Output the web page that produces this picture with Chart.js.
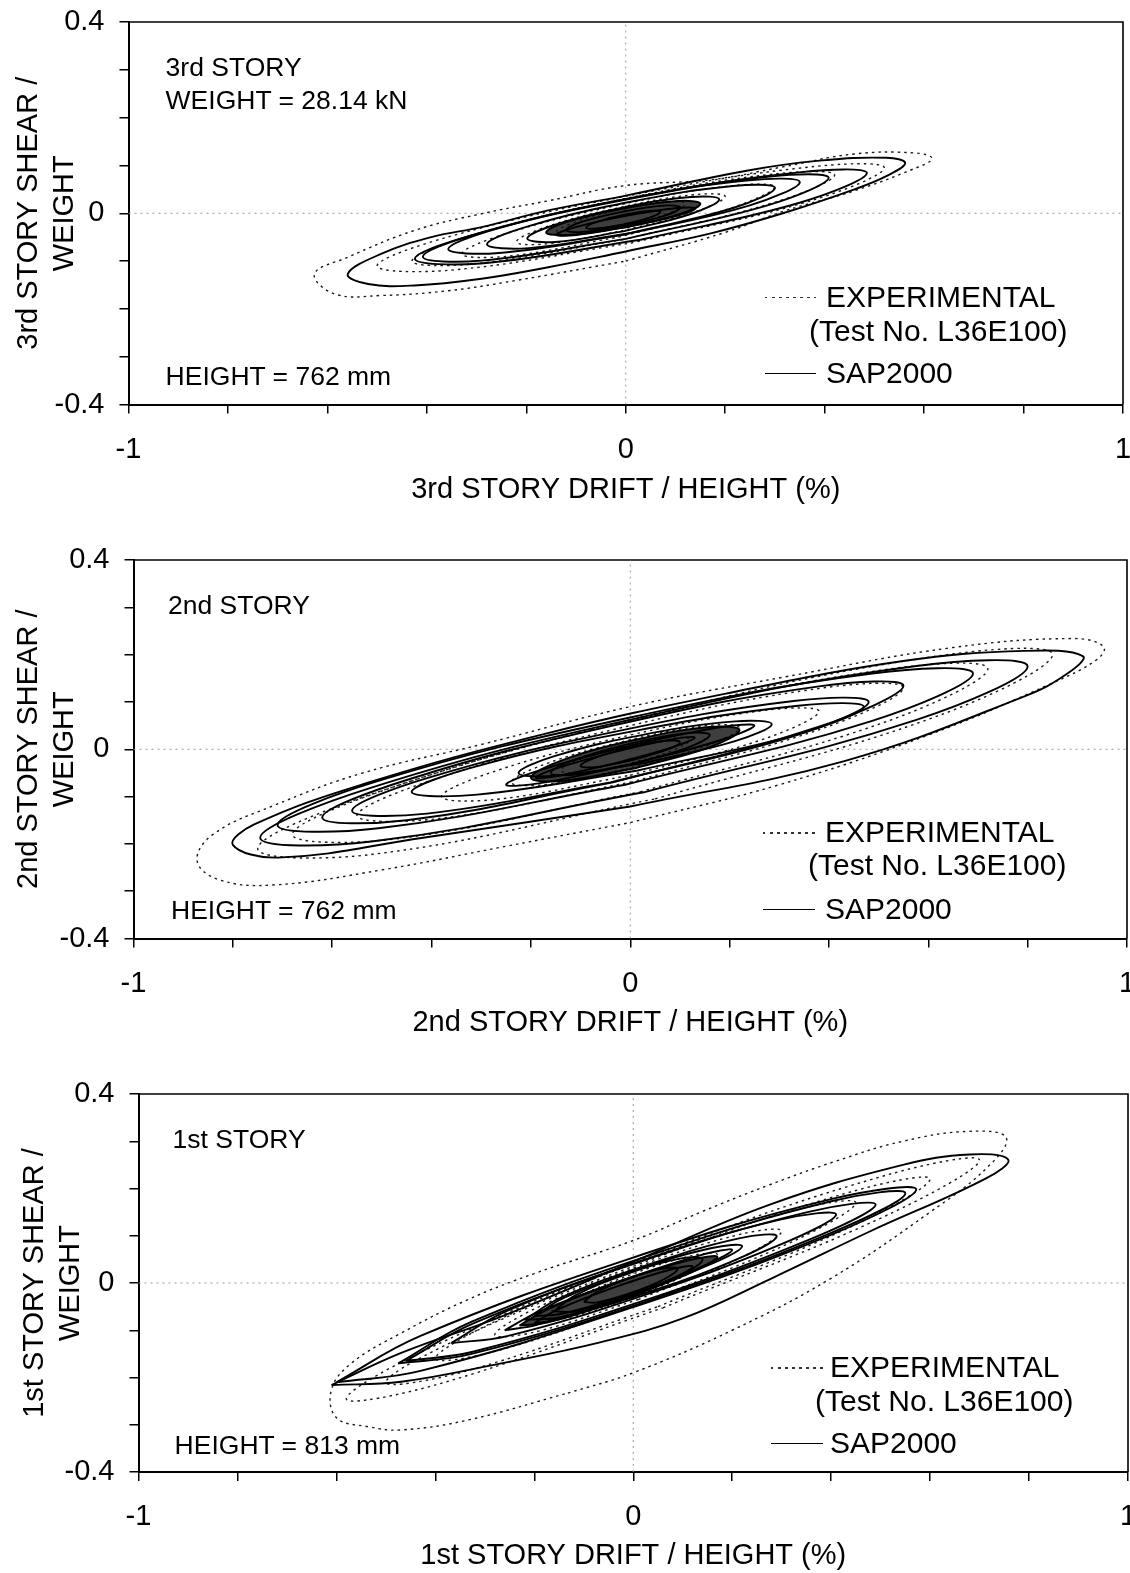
<!DOCTYPE html>
<html>
<head>
<meta charset="utf-8">
<script src="https://cdn.jsdelivr.net/npm/chart.js@4.4.0/dist/chart.umd.min.js"></script>
<style>
    body { margin: 0; background: #fff; width: 1130px; height: 1573px; position: relative; overflow: hidden; font-family: "Liberation Sans", Arial, sans-serif; }
    canvas { position: absolute; left: 0; }
    .t { position: absolute; white-space: nowrap; font-size: 26.5px; line-height: 1; color: #000; transform: translateY(-50%); }
    .lg { font-size: 30px; }
    .dots { position: absolute; height: 1.5px; background: repeating-linear-gradient(to right, #333 0 2.5px, transparent 2.5px 7px); }
    .solid { position: absolute; height: 0; border-top: 1.8px solid #000; }
</style>
</head>
<body>
<canvas id="story3"></canvas>
<canvas id="story2"></canvas>
<canvas id="story1"></canvas>
<div id="notes"></div>

<script>
// tick labels
const xTickValues = [-1, 0, 1];
const xTickLabels = ['-1', '0', '1'];
const yTickValues = [-0.4, 0, 0.4];
const yTickLabels = ['-0.4', '0', '0.4'];

const xTitles = ['3rd STORY DRIFT / HEIGHT (%)', '2nd STORY DRIFT / HEIGHT (%)', '1st STORY DRIFT / HEIGHT (%)'];
const yTitles = [['3rd STORY SHEAR /', 'WEIGHT'], ['2nd STORY SHEAR /', 'WEIGHT'], ['1st STORY SHEAR /', 'WEIGHT']];
const storyLabels = ['3rd STORY', '2nd STORY', '1st STORY'];
const weightLabel = 'WEIGHT = 28.14 kN';
const heightLabels = ['HEIGHT = 762 mm', 'HEIGHT = 762 mm', 'HEIGHT = 813 mm'];
const legendLabels = ['EXPERIMENTAL', '(Test No. L36E100)', 'SAP2000'];

// dotted reference lines through the origin
const zeroLineH = [[-1, 0], [1, 0]];
const zeroLineV = [[0, -0.4], [0, 0.4]];

// 3rd story - SAP2000 loops (drift %, shear/weight)
const sap3 = [
    [[0.562,0.105],[0.525,0.116],[0.39,0.11],[0.243,0.089],[0,0.037],[-0.156,0.006],[-0.29,-0.029],[-0.391,-0.05],[-0.492,-0.085],[-0.559,-0.127],[-0.518,-0.148],[-0.425,-0.151],[-0.29,-0.137],[-0.156,-0.113],[0,-0.08],[0.171,-0.042],[0.316,0.0],[0.46,0.05],[0.525,0.078],[0.562,0.105]],
    [[0.485,0.084],[0.353,0.086],[0.03,0.0345],[-0.292,-0.041],[-0.424,-0.095],[-0.292,-0.105],[0.03,-0.0555],[0.353,0.023],[0.485,0.084]],
    [[0.408,0.074],[0.29,0.077],[0,0.0295],[-0.29,-0.04],[-0.408,-0.091],[-0.29,-0.099],[0,-0.0535],[0.29,0.018],[0.408,0.074]],
    [[0.35,0.065],[0.248,0.069],[-0.004,0.029],[-0.255,-0.031],[-0.357,-0.075],[-0.255,-0.083],[-0.004,-0.045],[0.248,0.016],[0.35,0.065]],
    [[0.30,0.053],[0.216,0.057],[0.01,0.024],[-0.195,-0.027],[-0.279,-0.065],[-0.195,-0.073],[0.01,-0.041],[0.216,0.011],[0.30,0.053]],
    [[0.188,0.029],[0.132,0.034],[-0.005,0.012],[-0.142,-0.024],[-0.198,-0.053],[-0.142,-0.06],[-0.005,-0.038],[0.132,-0.001],[0.188,0.029]],
    [[0.14,0.01],[0.099,0.0105],[0,-0.0055],[-0.099,-0.0285],[-0.14,-0.045],[-0.099,-0.0455],[0,-0.0295],[0.099,-0.0065],[0.14,0.01]],
    [[0.11,0.012],[0.077,0.016],[-0.005,0.0035],[-0.087,-0.0175],[-0.12,-0.035],[-0.087,-0.039],[-0.005,-0.0265],[0.077,-0.0055],[0.11,0.012]],
    [[0.07,0.003],[0.048,0.005],[-0.005,-0.0035],[-0.058,-0.018],[-0.08,-0.03],[-0.058,-0.032],[-0.005,-0.0235],[0.048,-0.009],[0.07,0.003]]
];
// dense core where the small SAP2000 cycles pile up
const core3 = [[0.15,0.02],[0.105,0.0255],[-0.005,0.01],[-0.115,-0.017],[-0.16,-0.04],[-0.115,-0.0455],[-0.005,-0.03],[0.105,-0.003],[0.15,0.02]];

// 3rd story - experimental loops
const exp3 = [
    [[0.616,0.114],[0.584,0.126],[0.46,0.124],[0.316,0.097],[0.171,0.07],[0,0.058],[-0.156,0.026],[-0.29,-0.001],[-0.425,-0.036],[-0.559,-0.092],[-0.626,-0.127],[-0.585,-0.169],[-0.492,-0.172],[-0.357,-0.162],[-0.223,-0.141],[0,-0.1],[0.2,-0.04],[0.32,0.005],[0.46,0.047],[0.577,0.092],[0.616,0.114]],
    [[0.52,0.095],[0.372,0.097],[0.01,0.0375],[-0.352,-0.048],[-0.50,-0.11],[-0.352,-0.119],[0.01,-0.0625],[0.372,0.026],[0.52,0.095]],
    [[0.42,0.08],[0.297,0.082],[-0.005,0.03],[-0.307,-0.0455],[-0.43,-0.1],[-0.307,-0.106],[-0.005,-0.055],[0.297,0.022],[0.42,0.08]],
    [[0.30,0.055],[0.209,0.057],[-0.015,0.017],[-0.239,-0.042],[-0.33,-0.085],[-0.239,-0.09],[-0.015,-0.05],[0.209,0.01],[0.30,0.055]],
    [[0.20,0.035],[0.139,0.039],[-0.01,0.0125],[-0.159,-0.028],[-0.22,-0.06],[-0.159,-0.064],[-0.01,-0.0375],[0.139,0.003],[0.20,0.035]],
    [[0.12,0.02],[0.082,0.024],[-0.01,0.008],[-0.102,-0.0185],[-0.14,-0.04],[-0.102,-0.044],[-0.01,-0.028],[0.082,-0.0015],[0.12,0.02]]
];

// 2nd story - SAP2000 loops
const sap2 = [
    [[0.911,0.197],[0.796,0.208],[0.553,0.187],[0.19,0.117],[-0.174,0.032],[-0.538,-0.074],[-0.757,-0.159],[-0.80,-0.202],[-0.709,-0.229],[-0.417,-0.187],[0,-0.121],[0.431,-0.025],[0.796,0.113],[0.88,0.16],[0.911,0.197]],
    [[0.80,0.175],[0.576,0.176],[0.0275,0.069],[-0.521,-0.081],[-0.745,-0.187],[-0.521,-0.195],[0.0275,-0.091],[0.576,0.062],[0.80,0.175]],
    [[0.69,0.16],[0.487,0.16],[-0.01,0.065],[-0.507,-0.067],[-0.71,-0.16],[-0.507,-0.167],[-0.01,-0.075],[0.487,0.06],[0.69,0.16]],
    [[0.55,0.134],[0.38,0.133],[-0.035,0.05],[-0.45,-0.065],[-0.62,-0.144],[-0.45,-0.15],[-0.035,-0.07],[0.38,0.0475],[0.55,0.134]],
    [[0.48,0.10],[0.329,0.102],[-0.04,0.035],[-0.409,-0.061],[-0.56,-0.13],[-0.409,-0.136],[-0.04,-0.07],[0.329,0.028],[0.48,0.10]],
    [[0.47,0.09],[0.338,0.092],[0.015,0.04],[-0.308,-0.0355],[-0.44,-0.09],[-0.308,-0.096],[0.015,-0.045],[0.338,0.032],[0.47,0.09]],
    [[0.285,0.053],[0.211,0.059],[0.03,0.0315],[-0.151,-0.014],[-0.225,-0.05],[-0.151,-0.056],[0.03,-0.0285],[0.211,0.017],[0.285,0.053]],
    [[0.25,0.05],[0.178,0.046],[0,0.0075],[-0.178,-0.043],[-0.25,-0.075],[-0.178,-0.071],[0,-0.0325],[0.178,0.018],[0.25,0.05]],
    [[0.16,0.03],[0.114,0.034],[0,0.012],[-0.114,-0.023],[-0.16,-0.05],[-0.114,-0.054],[0,-0.032],[0.114,0.003],[0.16,0.03]],
    [[0.13,0.025],[0.084,0.021],[-0.03,-0.0055],[-0.144,-0.039],[-0.19,-0.06],[-0.144,-0.056],[-0.03,-0.0295],[0.084,0.004],[0.13,0.025]],
    [[0.10,0.015],[0.071,0.018],[0,0.004],[-0.071,-0.018],[-0.10,-0.035],[-0.071,-0.038],[0,-0.024],[0.071,-0.002],[0.10,0.015]]
];
const core2 = [[0.22,0.04],[0.159,0.047],[0.01,0.02],[-0.139,-0.024],[-0.20,-0.06],[-0.139,-0.067],[0.01,-0.04],[0.159,0.004],[0.22,0.04]];

// 2nd story - experimental loops
const exp2 = [
    [[0.953,0.217],[0.893,0.234],[0.65,0.215],[0.312,0.153],[0,0.09],[-0.3,0.01],[-0.538,-0.05],[-0.72,-0.12],[-0.84,-0.18],[-0.872,-0.235],[-0.83,-0.275],[-0.72,-0.287],[-0.5,-0.255],[-0.25,-0.205],[0,-0.155],[0.3,-0.075],[0.6,0.03],[0.85,0.14],[0.94,0.19],[0.953,0.217]],
    [[0.85,0.20],[0.618,0.197],[0.05,0.075],[-0.518,-0.094],[-0.75,-0.21],[-0.518,-0.222],[0.05,-0.105],[0.618,0.07],[0.85,0.20]],
    [[0.72,0.17],[0.517,0.169],[0.02,0.065],[-0.477,-0.08],[-0.68,-0.18],[-0.477,-0.19],[0.02,-0.09],[0.517,0.059],[0.72,0.17]],
    [[0.55,0.13],[0.39,0.13],[0,0.05],[-0.39,-0.062],[-0.55,-0.14],[-0.39,-0.147],[0,-0.07],[0.39,0.045],[0.55,0.13]],
    [[0.38,0.08],[0.27,0.082],[0,0.03],[-0.27,-0.0455],[-0.38,-0.10],[-0.27,-0.106],[0,-0.055],[0.27,0.022],[0.38,0.08]],
    [[0.22,0.045],[0.153,0.05],[-0.01,0.0175],[-0.173,-0.032],[-0.24,-0.07],[-0.173,-0.075],[-0.01,-0.0425],[0.153,0.007],[0.22,0.045]],
    [[0.12,0.02],[0.082,0.025],[-0.01,0.0075],[-0.102,-0.021],[-0.14,-0.045],[-0.102,-0.05],[-0.01,-0.0325],[0.082,-0.004],[0.12,0.02]]
];

// 1st story - SAP2000 loops
const sap1 = [
    [[0.758,0.261],[0.68,0.272],[0.545,0.25],[0.276,0.166],[0,0.045],[-0.267,-0.071],[-0.469,-0.148],[-0.61,-0.216],[-0.469,-0.209],[-0.267,-0.17],[-0.065,-0.125],[0.1,-0.075],[0.28,0.01],[0.478,0.109],[0.714,0.222],[0.758,0.261]],
    [[0.572,0.198],[0.402,0.178],[-0.014,0.049],[-0.43,-0.112],[-0.60,-0.21],[-0.43,-0.186],[-0.014,-0.056],[0.402,0.103],[0.572,0.198]],
    [[0.55,0.19],[0.40,0.173],[0.0375,0.06],[-0.3265,-0.082],[-0.475,-0.17],[-0.3265,-0.15],[0.0375,-0.035],[0.40,0.106],[0.55,0.19]],
    [[0.49,0.166],[0.352,0.15],[0.015,0.0455],[-0.322,-0.085],[-0.46,-0.165],[-0.322,-0.145],[0.015,-0.0395],[0.352,0.09],[0.49,0.166]],
    [[0.41,0.145],[0.297,0.134],[0.021,0.049],[-0.255,-0.059],[-0.368,-0.127],[-0.255,-0.1125],[0.021,-0.026],[0.297,0.081],[0.41,0.145]],
    [[0.29,0.099],[0.216,0.095],[0.035,0.0405],[-0.146,-0.031],[-0.22,-0.078],[-0.146,-0.072],[0.035,-0.0175],[0.216,0.053],[0.29,0.099]],
    [[0.22,0.078],[0.159,0.074],[0.01,0.029],[-0.139,-0.031],[-0.20,-0.07],[-0.139,-0.064],[0.01,-0.018],[0.159,0.041],[0.22,0.078]],
    [[0.2,0.07],[0.133,0.058],[-0.03,0.003],[-0.193,-0.062],[-0.26,-0.1],[-0.193,-0.088],[-0.03,-0.033],[0.133,0.032],[0.2,0.07]],
    [[0.14,0.05],[0.097,0.052],[-0.01,0.02],[-0.117,-0.026],[-0.16,-0.06],[-0.117,-0.06],[-0.01,-0.027],[0.097,0.018],[0.14,0.05]],
    [[0.12,0.035],[0.074,0.028],[-0.04,-0.01],[-0.154,-0.057],[-0.2,-0.085],[-0.154,-0.078],[-0.04,-0.04],[0.074,0.007],[0.12,0.035]],
    [[0.09,0.03],[0.063,0.031],[-0.005,0.011],[-0.073,-0.0185],[-0.10,-0.04],[-0.073,-0.041],[-0.005,-0.021],[0.063,0.0085],[0.09,0.03]]
];
const core1 = [[0.17,0.055],[0.112,0.048],[-0.03,0.0025],[-0.172,-0.055],[-0.23,-0.09],[-0.172,-0.083],[-0.03,-0.0375],[0.112,0.02],[0.17,0.055]];

// 1st story - experimental loops
const exp1 = [
    [[0.754,0.307],[0.68,0.321],[0.545,0.30],[0.41,0.258],[0.276,0.208],[0.141,0.152],[0,0.09],[-0.2,0.02],[-0.334,-0.035],[-0.469,-0.106],[-0.57,-0.17],[-0.61,-0.226],[-0.6,-0.285],[-0.536,-0.304],[-0.469,-0.311],[-0.334,-0.29],[-0.132,-0.233],[0,-0.19],[0.2,-0.1],[0.4,0.01],[0.6,0.15],[0.714,0.243],[0.754,0.307]],
    [[0.70,0.26],[0.514,0.229],[0.06,0.0675],[-0.394,-0.129],[-0.58,-0.245],[-0.394,-0.214],[0.06,-0.0525],[0.514,0.144],[0.70,0.26]],
    [[0.60,0.22],[0.44,0.193],[0.05,0.055],[-0.34,-0.112],[-0.50,-0.21],[-0.34,-0.187],[0.05,-0.05],[0.44,0.119],[0.60,0.22]],
    [[0.45,0.17],[0.327,0.154],[0.025,0.05],[-0.277,-0.08],[-0.40,-0.16],[-0.277,-0.144],[0.025,-0.04],[0.327,0.09],[0.45,0.17]],
    [[0.30,0.11],[0.216,0.103],[0.01,0.035],[-0.196,-0.053],[-0.28,-0.11],[-0.196,-0.103],[0.01,-0.035],[0.216,0.053],[0.30,0.11]],
    [[0.17,0.06],[0.119,0.058],[-0.005,0.0175],[-0.129,-0.038],[-0.18,-0.075],[-0.129,-0.073],[-0.005,-0.0325],[0.119,0.023],[0.17,0.06]]
];

Chart.defaults.font.family = '"Liberation Sans", Arial, sans-serif';
Chart.defaults.color = '#000';

// reorder a closed loop so the open ends of the path fall at a chosen spot
// (lower branch = smooth tips, left tip = pointed left end)
function loopPoints(loop, atLeftTip) {
    const open = loop.slice(0, -1);
    const k = atLeftTip ? Math.floor(open.length / 2) : Math.floor(open.length * 0.75);
    const turned = open.slice(k).concat(open.slice(0, k));
    turned.push(turned[0]);
    return turned.map(p => ({ x: p[0], y: p[1] }));
}

function linePoints(arr) {
    return arr.map(p => ({ x: p[0], y: p[1] }));
}

function tickText(value, values, labels) {
    for (let i = 0; i < values.length; i++) {
        if (Math.abs(value - values[i]) < 1e-6) return labels[i];
    }
    return '';
}

// draws the top and right edges of the plot box
const frameBox = {
    id: 'frameBox',
    beforeDatasetsDraw(chart) {
        const a = chart.chartArea;
        const ctx = chart.ctx;
        ctx.save();
        ctx.strokeStyle = '#000';
        ctx.lineWidth = 1.6;
        ctx.beginPath();
        ctx.moveTo(a.left, a.top);
        ctx.lineTo(a.right, a.top);
        ctx.lineTo(a.right, a.bottom);
        ctx.stroke();
        ctx.restore();
    }
};

function createPanel(id, g, sapLoops, core, expLoops, panel) {
    const canvas = document.getElementById(id);
    canvas.width = 1130;
    canvas.height = g.height;
    canvas.style.top = g.top + 'px';
    canvas.style.width = '1130px';
    canvas.style.height = g.height + 'px';

    const datasets = [];
    [zeroLineH, zeroLineV].forEach(line => {
        datasets.push({
            data: linePoints(line), showLine: true, pointRadius: 0,
            borderColor: '#9a9a9a', borderWidth: 1, borderDash: [2, 4], order: 4
        });
    });
    expLoops.forEach(loop => {
        datasets.push({
            data: loopPoints(loop, false), showLine: true, pointRadius: 0, tension: 0.4,
            borderColor: '#1a1a1a', borderWidth: 1.4, borderDash: [2.5, 4], order: 3
        });
    });
    datasets.push({
        data: loopPoints(core, g.pointedTips), showLine: true, pointRadius: 0, tension: 0.4,
        borderColor: '#000', borderWidth: 2, fill: 'shape', backgroundColor: 'rgba(20,20,20,0.82)', order: 2
    });
    sapLoops.forEach(loop => {
        datasets.push({
            data: loopPoints(loop, g.pointedTips), showLine: true, pointRadius: 0, tension: 0.4,
            borderColor: '#000', borderWidth: 1.9, order: 1
        });
    });

    return new Chart(canvas.getContext('2d'), {
        type: 'scatter',
        data: { datasets: datasets },
        plugins: [frameBox],
        options: {
            responsive: false,
            animation: false,
            events: [],
            layout: { padding: { top: g.plotTop, right: 1130 - g.plotRight, left: 0, bottom: 0 } },
            plugins: { legend: { display: false }, tooltip: { enabled: false } },
            scales: {
                x: {
                    type: 'linear', min: -1, max: 1,
                    afterFit(scale) {
                        scale.height = g.height - g.plotBottom;
                        scale.paddingLeft = 0;
                        scale.paddingRight = 0;
                    },
                    ticks: {
                        stepSize: 0.2, autoSkip: false, maxRotation: 0, padding: 19,
                        font: { size: 29 }, color: '#000',
                        callback: v => tickText(v, xTickValues, xTickLabels)
                    },
                    grid: { drawOnChartArea: false, drawTicks: true, tickLength: 9, color: '#000', lineWidth: 1.5 },
                    border: { display: true, color: '#000', width: 2 },
                    title: {
                        display: true, text: xTitles[panel], color: '#000',
                        font: { size: 29, lineHeight: 1.2 }, padding: { top: 0, bottom: g.xTitlePad }
                    }
                },
                y: {
                    type: 'linear', min: -0.4, max: 0.4,
                    afterFit(scale) {
                        scale.width = g.plotLeft;
                        scale.paddingTop = 0;
                        scale.paddingBottom = 0;
                    },
                    ticks: {
                        stepSize: 0.1, autoSkip: false, padding: 15,
                        font: { size: 29 }, color: '#000',
                        callback: v => tickText(v, yTickValues, yTickLabels)
                    },
                    grid: { drawOnChartArea: false, drawTicks: true, tickLength: 9, color: '#000', lineWidth: 1.5 },
                    border: { display: true, color: '#000', width: 2 },
                    title: {
                        display: true, text: yTitles[panel], color: '#000',
                        font: { size: 29, lineHeight: 1.25 }, padding: { top: g.yTitlePad, bottom: 0 }
                    }
                }
            }
        }
    });
}

// page geometry of the three panels (pixels)
const panels = [
    { top: 0, height: 512, plotLeft: 128.5, plotRight: 1123, plotTop: 22, plotBottom: 404.5, xTitlePad: 5, yTitlePad: 11, pointedTips: false },
    { top: 536, height: 512, plotLeft: 133.5, plotRight: 1127, plotTop: 24, plotBottom: 402.5, xTitlePad: 8, yTitlePad: 11, pointedTips: false },
    { top: 1070, height: 503, plotLeft: 138.5, plotRight: 1128, plotTop: 24, plotBottom: 402, xTitlePad: 0, yTitlePad: 17, pointedTips: true }
];

createPanel('story3', panels[0], sap3, core3, exp3, 0);
createPanel('story2', panels[1], sap2, core2, exp2, 1);
createPanel('story1', panels[2], sap1, core1, exp1, 2);

// text notes and legend inside each plot
const notes = document.getElementById('notes');
function addText(cls, text, left, cy) {
    const d = document.createElement('div');
    d.className = cls;
    d.textContent = text;
    d.style.left = left + 'px';
    d.style.top = cy + 'px';
    notes.appendChild(d);
}
function addLine(cls, left, right, y) {
    const d = document.createElement('div');
    d.className = cls;
    d.style.left = left + 'px';
    d.style.width = (right - left) + 'px';
    d.style.top = y + 'px';
    notes.appendChild(d);
}

const noteSpots = [
    { story: [165.6, 67.2], height: [165.6, 376.3], lineL: 765, lineR: 816, textL: 826, testL: 809, y1: 296.5, y2: 331, y3: 373 },
    { story: [168, 605], height: [171, 910], lineL: 763, lineR: 815, textL: 825, testL: 808, y1: 832, y2: 865, y3: 909 },
    { story: [172.6, 1139], height: [174.6, 1445], lineL: 771, lineR: 823, textL: 830, testL: 815, y1: 1367, y2: 1401, y3: 1443 }
];

noteSpots.forEach((s, i) => {
    addText('t', storyLabels[i], s.story[0], s.story[1]);
    if (i === 0) addText('t', weightLabel, 165.6, 100.4);
    addText('t', heightLabels[i], s.height[0], s.height[1]);
    addLine('dots', s.lineL, s.lineR, s.y1);
    addText('t lg', legendLabels[0], s.textL, s.y1);
    addText('t lg', legendLabels[1], s.testL, s.y2);
    addLine('solid', s.lineL, s.lineR, s.y3);
    addText('t lg', legendLabels[2], s.textL, s.y3);
});
</script>
</body>
</html>
